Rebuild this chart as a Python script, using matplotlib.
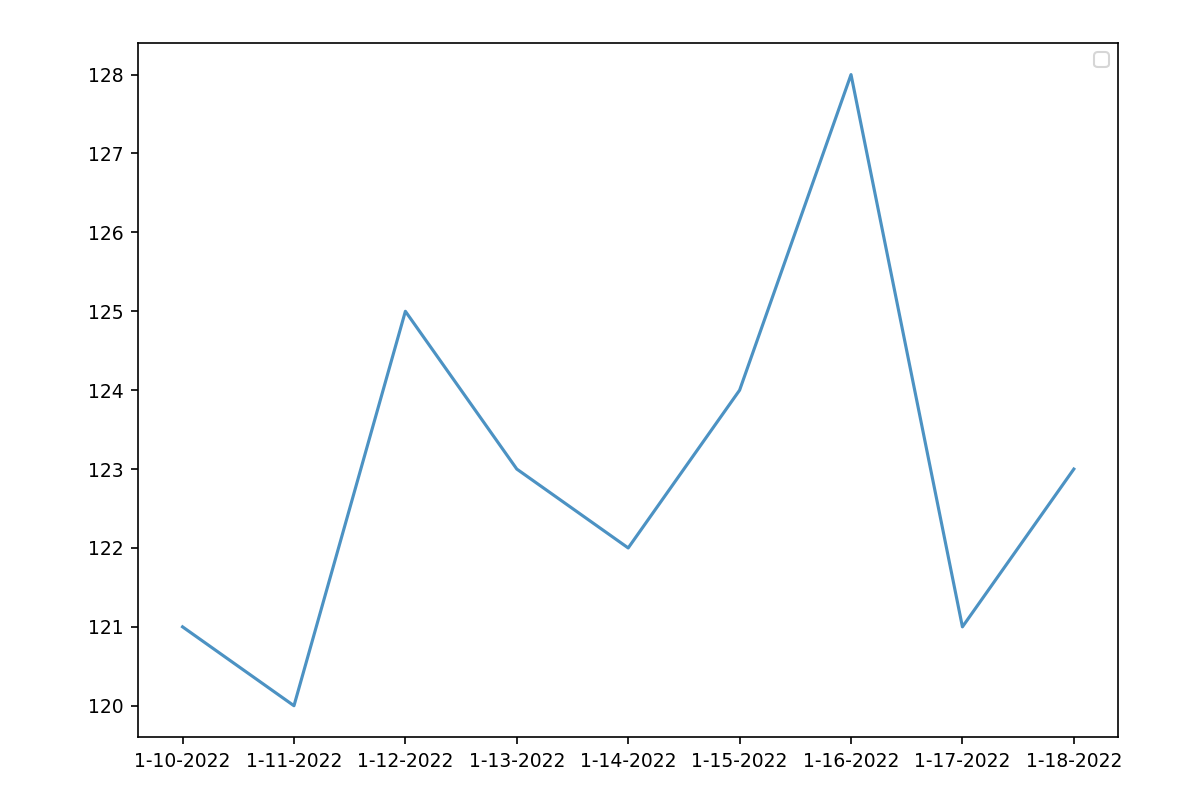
import matplotlib
matplotlib.use("Agg")
import matplotlib.pyplot as plt

dates = ["1-10-2022", "1-11-2022", "1-12-2022", "1-13-2022", "1-14-2022",
         "1-15-2022", "1-16-2022", "1-17-2022", "1-18-2022"]
values = [121, 120, 125, 123, 122, 124, 128, 121, 123]

plt.rcParams["font.size"] = 9

fig, ax = plt.subplots(figsize=(8, 812 / 150), dpi=150)
fig.subplots_adjust(left=0.115, right=0.932, bottom=0.092, top=0.947)

ax.plot(dates, values, color="#1f77b4", alpha=0.8)
ax.legend()

fig.savefig("out.png", dpi=150)
